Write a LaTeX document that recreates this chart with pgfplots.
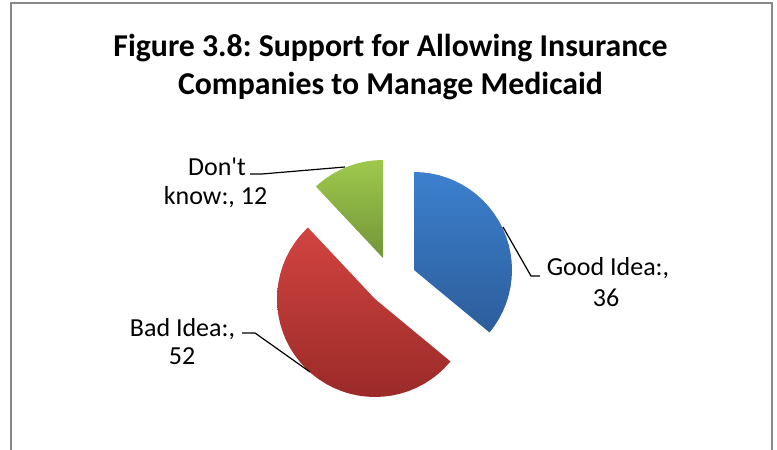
\documentclass[border=0pt]{standalone}
\usepackage{pgfplots}
\pgfplotsset{compat=1.18}
\usepackage{fontspec}
\setmainfont{Carlito}
\definecolor{blueTop}{RGB}{60,128,206}
\definecolor{blueBot}{RGB}{44,93,154}
\definecolor{redTop}{RGB}{210,68,64}
\definecolor{redBot}{RGB}{154,42,40}
\definecolor{greenTop}{RGB}{158,201,76}
\definecolor{greenBot}{RGB}{114,149,57}
\definecolor{frameGray}{RGB}{137,137,137}
\frenchspacing
\begin{document}
\begin{tikzpicture}[x=1bp,y=1bp]
\clip (0,0) rectangle (777,450);
\fill[white] (0,0) rectangle (777,450);
\draw[frameGray, line width=2bp] (11,-10) -- (11,447) -- (772,447) -- (772,-10);
% values: Good Idea 36, Bad Idea 52, Don't know 12 (pie starts at 90 deg, clockwise; 1 unit = 3.6 deg)
\begin{axis}[x=1bp, y=1bp, hide axis, clip=false,
  xmin=-130, xmax=130, ymin=-130, ymax=130,
  anchor=origin, at={(391.8,169.4)}]
% Good Idea: 36 -> 90 to -39.6
\addplot[data cs=polar, draw=none, top color=blueTop, bottom color=blueBot, xshift=22.2bp, yshift=10.6bp]
coordinates {(0,0) (90,98) (85,98) (80,98) (75,98) (70,98) (65,98) (60,98) (55,98) (50,98) (45,98) (40,98) (35,98) (30,98) (25,98) (20,98) (15,98) (10,98) (5,98) (0,98) (-5,98) (-10,98) (-15,98) (-20,98) (-25,98) (-30,98) (-35,98) (-39.6,98) (0,0)};
% Bad Idea: 52 -> -39.6 to -226.8
\addplot[data cs=polar, draw=none, top color=redTop, bottom color=redBot, xshift=-16.8bp, yshift=-18.4bp]
coordinates {(0,0) (-39.6,98) (-45,98) (-50,98) (-55,98) (-60,98) (-65,98) (-70,98) (-75,98) (-80,98) (-85,98) (-90,98) (-95,98) (-100,98) (-105,98) (-110,98) (-115,98) (-120,98) (-125,98) (-130,98) (-135,98) (-140,98) (-145,98) (-150,98) (-155,98) (-160,98) (-165,98) (-170,98) (-175,98) (-180,98) (-185,98) (-190,98) (-195,98) (-200,98) (-205,98) (-210,98) (-215,98) (-220,98) (-225,98) (-226.8,98) (0,0)};
% Don't know: 12 -> 133.2 to 90
\addplot[data cs=polar, draw=none, top color=greenTop, bottom color=greenBot, xshift=-8.8bp, yshift=22.6bp]
coordinates {(0,0) (133.2,98) (130,98) (125,98) (120,98) (115,98) (110,98) (105,98) (100,98) (95,98) (90,98) (0,0)};
\end{axis}
% titles
\node[anchor=base, font=\bfseries\fontsize{31.8bp}{38bp}\selectfont, inner sep=0] at (390.5,393) {Figure 3.8: Support for Allowing Insurance};
\node[anchor=base, font=\bfseries\fontsize{31.8bp}{38bp}\selectfont, inner sep=0] at (390.5,355) {Companies to Manage Medicaid};
% labels
\begin{scope}[every node/.style={anchor=base, inner sep=0, font=\fontsize{26bp}{31bp}\selectfont}]
\node at (608,174) {Good Idea:,};
\node at (606,143) {36};
\node at (182.5,113.3) {Bad Idea:,};
\node at (182,85) {52};
\node at (217,274) {Don\textquotesingle t};
\node at (215.5,245) {know:, 12};
\end{scope}
% leader lines
\draw[black, line width=1.2bp] (503,223) -- (531,174) -- (540,174);
\draw[black, line width=1.2bp] (242,117) -- (255,117) -- (310,78);
\draw[black, line width=1.2bp] (250,276) -- (262,276) -- (345,283);
\end{tikzpicture}
\end{document}
